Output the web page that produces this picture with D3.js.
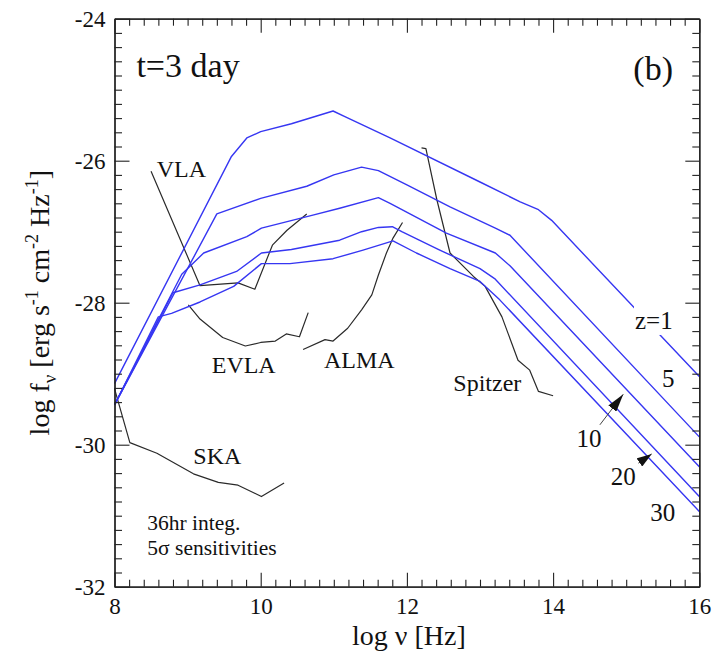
<!DOCTYPE html>
<html>
<head>
<meta charset="utf-8">
<script src="https://cdn.jsdelivr.net/npm/d3@7"></script>
<style>
  html, body { margin: 0; padding: 0; background: #fff; }
  svg text { font-family: "Liberation Serif", "DejaVu Serif", serif; fill: #111; }
</style>
</head>
<body>
<svg id="chart" width="721" height="652"></svg>
<script>
// ---------- data (log nu [Hz], log f_nu) ----------
const z1  = [[8,-29.14],[9.6,-25.94],[9.81,-25.68],[10.0,-25.59],[10.42,-25.48],[10.99,-25.30],[11.13,-25.37],[11.77,-25.68],[13.0,-26.30],[13.55,-26.58],[13.80,-26.69],[13.98,-26.84],[16,-29.04]];
const z5  = [[8,-29.44],[9.40,-26.75],[10.0,-26.53],[10.63,-26.36],[11.0,-26.20],[11.38,-26.09],[11.61,-26.14],[12.0,-26.34],[12.59,-26.65],[13.21,-26.95],[13.41,-27.05],[16,-29.89]];
const z10 = [[8,-29.44],[8.92,-27.60],[9.22,-27.30],[9.81,-27.07],[10.01,-26.95],[10.70,-26.77],[11.08,-26.67],[11.61,-26.52],[11.77,-26.60],[12.54,-27.02],[13.21,-27.30],[13.41,-27.48],[16,-30.31]];
const z20 = [[8,-29.44],[8.80,-27.86],[9.17,-27.75],[9.67,-27.56],[10.01,-27.30],[10.42,-27.25],[11.08,-27.12],[11.38,-27.00],[11.61,-26.94],[11.80,-26.93],[11.93,-27.00],[12.45,-27.26],[13.0,-27.52],[13.2,-27.66],[16,-30.73]];
const z30 = [[8,-29.44],[8.60,-28.20],[8.78,-28.15],[9.17,-27.99],[9.63,-27.77],[10.01,-27.45],[10.40,-27.45],[10.99,-27.38],[11.40,-27.26],[11.81,-27.13],[12.13,-27.30],[12.59,-27.52],[13.0,-27.70],[13.27,-27.96],[16,-30.94]];

const VLA     = [[8.50,-26.15],[9.17,-27.76],[9.69,-27.72],[9.92,-27.81],[10.16,-27.19],[10.36,-26.98],[10.63,-26.75]];
const EVLA    = [[9.01,-28.03],[9.17,-28.23],[9.48,-28.49],[9.79,-28.61],[10.0,-28.56],[10.20,-28.54],[10.35,-28.44],[10.53,-28.48],[10.65,-28.14]];
const ALMA    = [[10.58,-28.66],[10.88,-28.52],[10.99,-28.54],[11.19,-28.36],[11.38,-28.10],[11.52,-27.89],[11.61,-27.61],[11.72,-27.30],[11.81,-27.09],[11.94,-26.87]];
const Spitzer = [[12.20,-25.82],[12.26,-25.83],[12.41,-26.55],[12.59,-27.30],[12.91,-27.63],[13.07,-27.77],[13.30,-28.20],[13.52,-28.81],[13.68,-28.95],[13.80,-29.25],[14.00,-29.31]];
const SKA     = [[8.0,-29.21],[8.21,-29.97],[8.58,-30.12],[9.08,-30.41],[9.42,-30.53],[9.69,-30.57],[10.01,-30.73],[10.32,-30.54]];

const xMajor = [8, 10, 12, 14, 16];
const yMajor = [-32, -30, -28, -26, -24];

// annotation anchors in data units
const curveLabels = [
  {t:"VLA", at:[8.577,-26.225]},
  {t:"EVLA", at:[9.33,-28.99]},
  {t:"ALMA", at:[10.866,-28.92]},
  {t:"Spitzer", at:[12.635,-29.24]},
  {t:"SKA", at:[9.078,-30.27]}
];
const noteLines = [
  {t:"36hr integ.", at:[8.449,-31.20]},
  {t:"5σ sensitivities", at:[8.449,-31.55]}
];
const zLabels = [
  {t:"z=1", at:[15.12,-28.37], bg:true},
  {t:"5", at:[15.49,-29.19]},
  {t:"10", at:[14.32,-30.03]},
  {t:"20", at:[14.79,-30.57]},
  {t:"30", at:[15.33,-31.08]}
];
const arrows = [
  {from:[14.64,-29.72], to:[14.96,-29.29], head:"h10"},
  {from:[15.166,-30.26], to:[15.349,-30.13], head:"h20"}
];

// ---------- drawing ----------
const svg = d3.select("#chart");
const x = d3.scaleLinear().domain([8,16]).range([114.5, 699.3]);
const y = d3.scaleLinear().domain([-32,-24]).range([586.7, 18.7]);

const defs = svg.append("defs");
defs.append("marker").attr("id","h10").attr("markerUnits","userSpaceOnUse")
  .attr("viewBox","0 0 18 10").attr("markerWidth",18).attr("markerHeight",10)
  .attr("refX",18).attr("refY",5).attr("orient","auto")
  .append("path").attr("d","M0,0 L18,5 L0,10 Z").attr("fill","#111");
defs.append("marker").attr("id","h20").attr("markerUnits","userSpaceOnUse")
  .attr("viewBox","0 0 15 10").attr("markerWidth",15).attr("markerHeight",10)
  .attr("refX",15).attr("refY",5).attr("orient","auto")
  .append("path").attr("d","M0,0 L15,5 L0,10 Z").attr("fill","#111");

const line = d3.line().x(d => x(d[0])).y(d => y(d[1]));

// instrument sensitivity curves
[VLA, EVLA, ALMA, Spitzer, SKA].forEach(c => {
  svg.append("path").datum(c).attr("d", line)
    .attr("fill","none").attr("stroke","#2a2a2a").attr("stroke-width",1.2)
    .attr("stroke-linejoin","round");
});

// model curves
[z1, z5, z10, z20, z30].forEach(c => {
  svg.append("path").datum(c).attr("d", line)
    .attr("fill","none").attr("stroke","#3636f2").attr("stroke-width",1.4)
    .attr("stroke-linejoin","round");
});

// axes (ticks inward)
const xMinor = d3.range(8, 16.001, 0.2).map(v => +v.toFixed(1)).filter(v => !xMajor.includes(v));
const yMinor = d3.range(-32, -23.999, 0.2).map(v => +v.toFixed(1)).filter(v => !yMajor.includes(v));
const fmt = d => String(d);

function axisStyle(g){
  g.selectAll("path.domain").attr("stroke","#222").attr("stroke-width",1.3);
  g.selectAll(".tick line").attr("stroke","#222").attr("stroke-width",1.1);
  g.selectAll(".tick text").style("font-family",'"Liberation Serif", serif').style("font-size","23px").attr("fill","#111");
}

const H = 586.7, L = 114.5, R = 699.3, T = 18.7;
svg.append("g").attr("transform",`translate(0,${H})`)
  .call(d3.axisBottom(x).tickValues(xMinor).tickSize(-7).tickSizeOuter(0).tickFormat("")).call(axisStyle);
svg.append("g").attr("transform",`translate(0,${H})`)
  .call(d3.axisBottom(x).tickValues(xMajor).tickSize(-14).tickSizeOuter(0).tickPadding(11).tickFormat(fmt)).call(axisStyle);
svg.append("g").attr("transform",`translate(0,${T})`)
  .call(d3.axisTop(x).tickValues(xMinor).tickSize(-7).tickSizeOuter(0).tickFormat("")).call(axisStyle);
svg.append("g").attr("transform",`translate(0,${T})`)
  .call(d3.axisTop(x).tickValues(xMajor).tickSize(-14).tickSizeOuter(0).tickFormat("")).call(axisStyle);
svg.append("g").attr("transform",`translate(${L},0)`)
  .call(d3.axisLeft(y).tickValues(yMinor).tickSize(-7.5).tickSizeOuter(0).tickFormat("")).call(axisStyle);
svg.append("g").attr("transform",`translate(${L},0)`)
  .call(d3.axisLeft(y).tickValues(yMajor).tickSize(-15).tickSizeOuter(0).tickPadding(9).tickFormat(fmt)).call(axisStyle);
svg.append("g").attr("transform",`translate(${R},0)`)
  .call(d3.axisRight(y).tickValues(yMinor).tickSize(-7).tickSizeOuter(0).tickFormat("")).call(axisStyle);
svg.append("g").attr("transform",`translate(${R},0)`)
  .call(d3.axisRight(y).tickValues(yMajor).tickSize(-14).tickSizeOuter(0).tickFormat("")).call(axisStyle);

// curve labels
curveLabels.forEach(l => {
  svg.append("text").attr("x", x(l.at[0])).attr("y", y(l.at[1]))
    .style("font-size","24px").text(l.t);
});
noteLines.forEach(l => {
  svg.append("text").attr("x", x(l.at[0])).attr("y", y(l.at[1]))
    .style("font-size","21.5px").text(l.t);
});

// z labels
zLabels.forEach(l => {
  const t = svg.append("text").attr("x", x(l.at[0])).attr("y", y(l.at[1]))
    .style("font-size","25px").text(l.t);
  if (l.bg) {
    const b = t.node().getBBox();
    svg.insert("rect", () => t.node()).attr("x", b.x - 1).attr("y", b.y - 1)
      .attr("width", b.width + 2).attr("height", b.height + 2).attr("fill","#fff");
  }
});

// arrows
arrows.forEach(a => {
  svg.append("line").attr("x1", x(a.from[0])).attr("y1", y(a.from[1]))
    .attr("x2", x(a.to[0])).attr("y2", y(a.to[1]))
    .attr("stroke","#444").attr("stroke-width",1)
    .attr("marker-end", `url(#${a.head})`);
});

// panel texts
svg.append("text").attr("x", x(8.30)).attr("y", y(-24.82)).style("font-size","34px").text("t=3 day");
svg.append("text").attr("x", x(15.64)).attr("y", y(-24.86)).attr("text-anchor","end").style("font-size","34px").text("(b)");

// axis titles
svg.append("text").attr("x", (L + R) / 2 + 2).attr("y", 645).attr("text-anchor","middle")
  .style("font-size","28px").text("log ν [Hz]");

const yl = svg.append("text").attr("transform", `translate(49,${(T + H) / 2}) rotate(-90)`)
  .attr("text-anchor","middle").style("font-size","28px");
yl.append("tspan").text("log f");
yl.append("tspan").attr("dy", 7).style("font-size","19px").text("ν");
yl.append("tspan").attr("dy", -7).text(" [erg s");
yl.append("tspan").attr("dy", -11).style("font-size","18px").text("-1");
yl.append("tspan").attr("dy", 11).text(" cm");
yl.append("tspan").attr("dy", -11).style("font-size","18px").text("-2");
yl.append("tspan").attr("dy", 11).text(" Hz");
yl.append("tspan").attr("dy", -11).style("font-size","18px").text("-1");
yl.append("tspan").attr("dy", 11).text("]");
</script>
</body>
</html>
